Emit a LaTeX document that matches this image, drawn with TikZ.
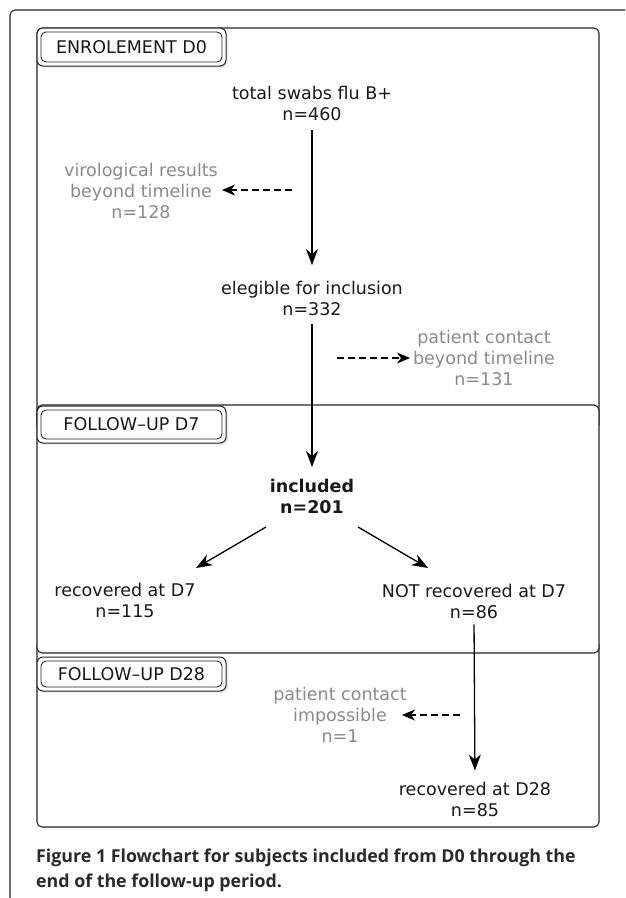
\documentclass[tikz,border=0pt]{standalone}
\usepackage{fontspec}
\setmainfont{DejaVu Sans}
\newfontfamily\capfont{Open Sans}
\usetikzlibrary{arrows.meta,shadows}
\definecolor{grayt}{HTML}{8A8A8A}
\definecolor{capc}{HTML}{2A2A2A}
\tikzset{
  frame/.style={draw=black!85,line width=1.1pt,rounded corners=5pt},
  sect/.style={draw=black!85,line width=1.1pt,rounded corners=5pt,fill=white},
  lblouter/.style={draw=black!85,line width=1pt,rounded corners=6pt,fill=white,
     drop shadow={opacity=0.18,shadow xshift=2pt,shadow yshift=-2pt}},
  lblinner/.style={draw=black!85,line width=0.9pt,rounded corners=5pt},
  lbltext/.style={font=\fontsize{17.5}{19}\selectfont,text=black!90},
  txt/.style={align=center,font=\fontsize{17.5}{21}\selectfont,text=black!90,inner sep=0pt},
  gtxt/.style={align=center,font=\fontsize{17.5}{21}\selectfont,text=grayt,inner sep=0pt},
  arr/.style={draw=black,line width=1.3pt,-{Stealth[length=16pt,width=12pt,inset=5pt]}},
  darr/.style={draw=black,line width=1.2pt,dash pattern=on 7pt off 4pt,-{Stealth[length=13pt,width=11pt,inset=4pt]}},
}
\begin{document}
\begin{tikzpicture}[x=1pt,y=-1pt]
\useasboundingbox (0,0) rectangle (625,898);
\fill[white] (0,0) rectangle (625,898);
% outer frame
\begin{scope}
\clip (0,0) rectangle (625,898);
\draw[frame] (10,905) -- (10,10) -- (640,10);
\end{scope}
% sections
\draw[sect] (37,28) rectangle (599,430);
\draw[sect] (37,640) rectangle (599,827);
\draw[sect] (37,405) rectangle (599,653);
% labels
\draw[lblouter] (37,28) rectangle (226,66);
\draw[lblinner] (41,32) rectangle (222,62);
\node[lbltext] (l0) at (131.5,47) {ENROLEMENT D0};
\draw[lblouter] (37,406) rectangle (226,443);
\draw[lblinner] (41,410) rectangle (222,439);
\node[lbltext] (l7) at (131.5,424.5) {FOLLOW–UP D7};
\draw[lblouter] (37,657) rectangle (226,691);
\draw[lblinner] (41,661) rectangle (222,687);
\node[lbltext] (l28) at (131.5,674) {FOLLOW–UP D28};
% main nodes
\node[txt] (tot) at (312,103.5) {total swabs flu B+\\n=460};
\node[txt] (eli) at (312,298.5) {elegible for inclusion\\n=332};
\node[txt,font=\fontsize{17.5}{21}\selectfont\bfseries] (inc) at (312,496.5) {included\\n=201};
\node[txt] (rec7) at (125,600) {recovered at D7\\n=115};
\node[txt] (not7) at (474,601) {NOT recovered at D7\\n=86};
\node[txt] (rec28) at (475,799) {recovered at D28\\n=85};
% gray nodes
\node[gtxt] (vir) at (141,191) {virological results\\beyond timeline\\n=128};
\node[gtxt] (pc1) at (484,358) {patient contact\\beyond timeline\\n=131};
\node[gtxt] (pc2) at (340,715) {patient contact\\impossible\\n=1};
% arrows
\draw[arr,shorten <=9pt,shorten >=16pt] (tot.south) -- (eli.north);
\draw[arr,shorten <=8pt,shorten >=12pt] (eli.south) -- (inc.north);
\draw[arr] (266,527) coordinate (a1) -- (196,568) coordinate (b1);
\draw[arr] (358,527) coordinate (a2) -- (428,568) coordinate (b2);
\draw[arr,shorten <=6pt,shorten >=11pt] (not7.south) -- (rec28.north);
% dashed
\coordinate (d1) at (292,190);
\draw[darr] (d1) -- (222,190);
\coordinate (d2) at (337,358);
\draw[darr] (d2) -- (410,358);
\coordinate (d3) at (460,715);
\draw[darr] (d3) -- (402,715);
% caption
\node[anchor=west,inner sep=0pt,font=\capfont\bfseries\fontsize{17.8}{25}\selectfont,text=capc] (cap1) at (36,858) {Figure 1 Flowchart for subjects included from D0 through the};
\node[anchor=west,inner sep=0pt,font=\capfont\bfseries\fontsize{17.8}{25}\selectfont,text=capc] (cap2) at (36,883) {end of the follow-up period.};
\end{tikzpicture}
\end{document}
